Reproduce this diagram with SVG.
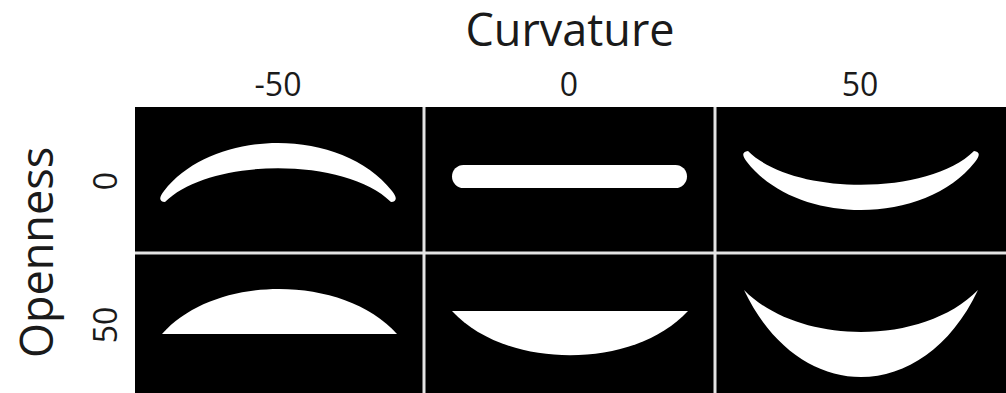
<svg xmlns="http://www.w3.org/2000/svg" width="1006" height="393" viewBox="0 0 1006 393">
<style>
.t{font-family:"Open Sans","Liberation Sans",sans-serif;fill:#1a1a1a}
.big{font-size:45px}
.tick{font-size:32px}
.shape{fill:#ffffff}
.sep{stroke:#e4e4e4;stroke-width:3}
</style>
<rect x="0" y="0" width="1006" height="393" fill="#ffffff"/>
<g id="title-curvature"><text class="t big" x="570" y="46" text-anchor="middle">Curvature</text></g>
<g id="title-openness"><text class="t big" transform="translate(53,252.5) rotate(-90)" text-anchor="middle">Openness</text></g>
<g id="col-labels">
<text class="t tick" x="278" y="96" text-anchor="middle">-50</text>
<text class="t tick" x="569" y="96" text-anchor="middle">0</text>
<text class="t tick" x="860" y="96" text-anchor="middle">50</text>
</g>
<g id="row-labels">
<text class="t tick" transform="translate(117,181) rotate(-90)" text-anchor="middle">0</text>
<text class="t tick" transform="translate(117,325) rotate(-90)" text-anchor="middle">50</text>
</g>
<g id="grid">
<rect x="135" y="107" width="871" height="286" fill="#000000"/>
<line class="sep" x1="424" y1="107" x2="424" y2="393"/>
<line class="sep" x1="715" y1="107" x2="715" y2="393"/>
<line class="sep" x1="135" y1="253" x2="1006" y2="253"/>
</g>
<g id="c-50-o0"><path class="shape" d="M164,191 C214,127 342,127 392,191 Q400,201 391,202 C346,157 210,157 165,202 Q156,201 164,191 Z"/></g>
<g id="c0-o0"><rect class="shape" x="452" y="165" width="235" height="23" rx="11.5"/></g>
<g id="c50-o0"><path class="shape" transform="translate(583,353) scale(1,-1)" d="M164,191 C214,127 342,127 392,191 Q400,201 391,202 C346,157 210,157 165,202 Q156,201 164,191 Z"/></g>
<g id="c-50-o50"><path class="shape" d="M162,334 C215,274 343,274 397,334 Z"/></g>
<g id="c0-o50"><path class="shape" d="M452,311 L688,311 C634,370 506,370 452,311 Z"/></g>
<g id="c50-o50"><path class="shape" d="M744,290 C799,406 923,406 978,290 C923,346 799,346 744,290 Z"/></g>
</svg>
